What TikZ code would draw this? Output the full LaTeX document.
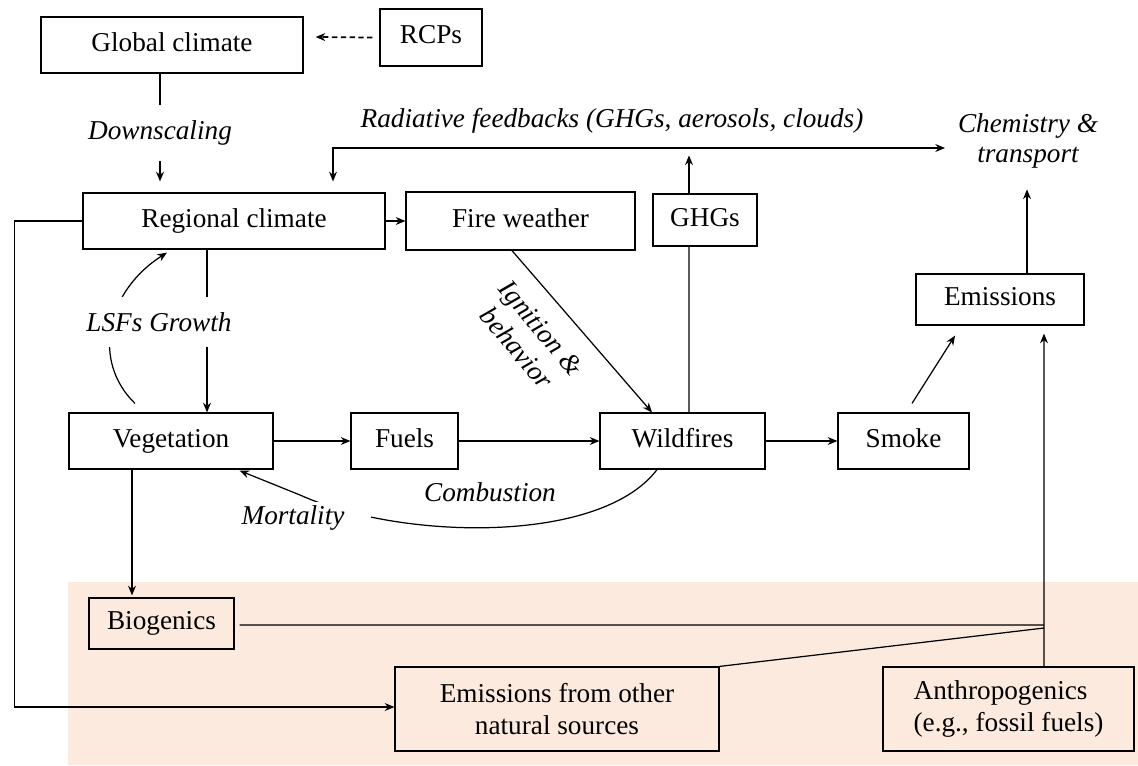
\documentclass[tikz,border=0pt]{standalone}
\usepackage{fontspec}
\setmainfont{Liberation Serif}
\usetikzlibrary{arrows.meta, calc}
\definecolor{peach}{RGB}{252,234,222}

\begin{document}
\begin{tikzpicture}[x=0.02cm, y=-0.02cm, line width=0.7pt, >={Stealth[length=5.5pt, width=4.5pt]},
    box/.style={draw, inner sep=0pt, align=center, font=\fontsize{15.5}{18}\selectfont},
    onebox/.style={box, text height=10.5pt, text depth=3.5pt},
    lbl/.style={font=\fontsize{15.5}{17}\selectfont\itshape, align=center, inner sep=2pt}]
        \useasboundingbox (0,0) rectangle (1138,765);

        % emission sources band
        \fill[peach] (68,582) rectangle (1138,765);

        % climate part
        \node[onebox, minimum width=5.24cm, minimum height=1.12cm] (glob) at (172,45) {Global climate};
        \node[onebox, minimum width=2.04cm, minimum height=1.14cm] (rcp) at (431,37.5) {RCPs};
        \node[onebox, minimum width=6.04cm, minimum height=1.12cm] (reg) at (234,221) {Regional climate};
        \node[onebox, minimum width=4.58cm, minimum height=1.16cm] (fw) at (520.5,221) {Fire weather};
        \node[onebox, minimum width=2.08cm, minimum height=1.04cm] (ghg) at (705,220) {GHGs};
        \node[onebox, minimum width=3.36cm, minimum height=1.02cm] (emis) at (1000,299.5) {Emissions};

        % fire part
        \node[onebox, minimum width=4.08cm, minimum height=1.12cm] (veg) at (171,441) {Vegetation};
        \node[onebox, minimum width=2.14cm, minimum height=1.12cm] (fuel) at (404.5,441) {Fuels};
        \node[onebox, minimum width=3.30cm, minimum height=1.12cm] (wild) at (682.5,441) {Wildfires};
        \node[onebox, minimum width=2.62cm, minimum height=1.12cm] (smoke) at (903.5,441) {Smoke};

        % other sources
        \node[onebox, minimum width=2.90cm, minimum height=1.02cm] (bio) at (161.5,623.5) {Biogenics};
        \node[box, minimum width=6.48cm, minimum height=1.68cm] (nat) at (557,709) {Emissions from other\\natural sources};
        \node[box, minimum width=5.02cm, minimum height=1.68cm, align=left] (anth) at (1008.5,709) {Anthropogenics\\(e.g., fossil fuels)};

        % free labels
        \node[lbl] (rad) at (612,121) {Radiative feedbacks (GHGs, aerosols, clouds)};
        \node[lbl] (chem) at (1028,141) {Chemistry \&\\transport};
        \node[lbl, rotate=-50, font=\fontsize{15.5}{18}\selectfont\itshape] (ign) at (529,338) {Ignition \&\\behavior};
        \node[lbl] (comb) at (490,492) {Combustion};

        % top connectors
        \draw[->, line width=1pt, dash pattern=on 3pt off 2pt] ($(rcp.west)+(-7,0)$) -- ($(glob.east)+(12,-8)$);
        \draw[->] ($(glob.south)+(-12,0)$) -- node[lbl, fill=white, inner ysep=9pt, pos=0.55] (down) {Downscaling} ($(reg.north)+(-74,-11)$);
        \draw[->] (reg.east) -- (fw.west);
        \coordinate (fbr) at (945,148);
        \draw[<->] ($(reg.north)+(99,-11)$) |- (fbr);
        \draw[->] ($(ghg.north)+(-16,0)$) -- ++(0,-38);
        \draw ($(wild.north)+(6.5,0)$) -- ($(ghg.south)+(-16,0)$);
        \draw[->] ($(emis.north)+(27,0)$) -- ++(0,-84);

        % vegetation and fire
        \draw[->] ($(reg.south)+(-27,0)$) -- ($(veg.north)+(36,0)$);
        \draw[->] ($(veg.north)+(-36,-9)$) .. controls (92,362) and (105,292) .. ($(reg.south)+(-67,3)$);
        \draw[->] (veg.east) -- (fuel.west);
        \draw[->] (fuel.east) -- (wild.west);
        \draw[->] (wild.east) -- (smoke.west);
        \draw[->] ($(fw.south)+(-8.5,0)$) -- ($(wild.north)+(-30.5,0)$);
        \draw[->] ($(smoke.north)+(8.5,-9)$) -- ($(emis.south)+(-45,10)$);
        \draw[->] ($(wild.south)+(-25.5,0)$) .. controls (600,545) and (400,540) .. (300,495) -- ($(veg.south east)+(-34,1)$);

        % sources to emissions
        \coordinate (jn) at (1044,625);
        \draw[->] ($(veg.south)+(-39,0)$) -- ($(bio.north)+(-29.5,-2)$);
        \draw ($(bio.east)+(5,1.5)$) -- (jn);
        \draw (nat.north east) -- ($(jn)+(0,3)$);
        \draw[->] ($(anth.north)+(35.5,0)$) -- ($(emis.south)+(44,8)$);
        \draw[->] (reg.west) -- ++(-68,0) |- ($(nat.west)+(0,-2)$);

        % labels over lines
        \node[lbl, fill=white, inner ysep=9pt] (lsf) at (159,322) {LSFs Growth};
        \node[lbl, fill=white, inner xsep=15pt] (mort) at (293,518) {Mortality};
\end{tikzpicture}
\end{document}
